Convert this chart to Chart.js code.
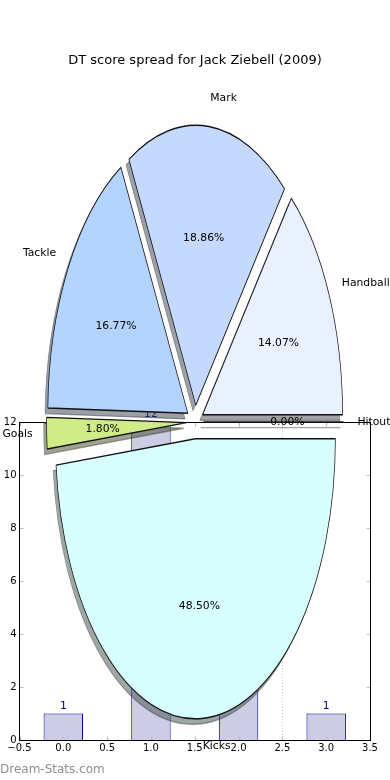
<!DOCTYPE html>
<html>
<head>
<meta charset="utf-8">
<script src="https://cdn.jsdelivr.net/npm/chart.js@4.4.0/dist/chart.umd.min.js"></script>
<style>
html,body{margin:0;padding:0;background:#fff;}
#wrap{position:relative;width:390px;height:780px;overflow:hidden;background:#fff;}
#wrap canvas{position:absolute;left:0;top:0;}
#wm{position:absolute;left:0;top:762px;font:12px "DejaVu Sans",sans-serif;color:#8e8e8e;white-space:nowrap;}
</style>
</head>
<body>
<div id="wrap">
<canvas id="bars" width="390" height="780"></canvas>
<canvas id="pie" width="390" height="780"></canvas>
<div id="wm">Dream-Stats.com</div>
</div>
<script>
// ---- data ----
const TITLE = 'DT score spread for Jack Ziebell (2009)';
const pieLabels = ['Handball', 'Mark', 'Tackle', 'Goals', 'Kicks', 'Hitout'];
const pieShares = [14.07, 18.86, 16.77, 1.80, 48.50, 0.00];
const pieColors = ['#e9f1ff', '#c5d9ff', '#b3d4ff', '#cfec89', '#d8ffff', '#ffe4c4'];
const barPositions = [0, 1, 2, 3];
const barValues = [1, 12, 6, 1];

// ---- style constants ----
const FONT = "'DejaVu Sans', sans-serif";
const EXPLODE = 0.06;     // fraction of radius
const STRETCH = 2;        // vertical stretch of the pie (ellipse)
const SHADOW_DX = -2.8, SHADOW_DY = 5.6;
const OFF = 2000;

Chart.defaults.font.family = FONT;
Chart.defaults.color = '#000';

function fmtTick(v) {
  return Number(v).toFixed(1).replace('-', '\u2212');
}
function hexToRgb(h) {
  const n = parseInt(h.slice(1), 16);
  return [(n >> 16) & 255, (n >> 8) & 255, n & 255];
}
function shadowOf(h) {
  const [r, g, b] = hexToRgb(h);
  return `rgba(${Math.round(r * 0.3)},${Math.round(g * 0.3)},${Math.round(b * 0.3)},0.5)`;
}

// ---- bar chart (underneath) ----
const framePlugin = {
  id: 'frame',
  afterDatasetsDraw(chart) {
    const {ctx, chartArea: a, scales: {x, y}} = chart;
    const L = Math.floor(a.left) + 0.5, R = Math.floor(a.right) + 0.5;
    const T = Math.floor(a.top) + 0.5, B = Math.floor(a.bottom) + 0.5;
    ctx.save();
    ctx.strokeStyle = '#bdbdbd';
    ctx.lineWidth = 1.2;
    const TL = 4;
    x.ticks.forEach(t => {
      const px = Math.round(x.getPixelForValue(t.value)) + 0.5;
      ctx.beginPath();
      ctx.moveTo(px, B); ctx.lineTo(px, B - TL);
      ctx.moveTo(px, T); ctx.lineTo(px, T + TL);
      ctx.stroke();
    });
    y.ticks.forEach(t => {
      const py = Math.round(y.getPixelForValue(t.value)) + 0.5;
      ctx.beginPath();
      ctx.moveTo(L, py); ctx.lineTo(L + TL, py);
      ctx.moveTo(R, py); ctx.lineTo(R - TL, py);
      ctx.stroke();
    });
    ctx.strokeStyle = '#000';
    ctx.lineWidth = 1;
    ctx.strokeRect(L, T, R - L, B - T);
    ctx.restore();
  }
};
const barLabelPlugin = {
  id: 'barLabels',
  afterDatasetsDraw(chart) {
    const ctx = chart.ctx;
    const meta = chart.getDatasetMeta(0);
    ctx.save();
    ctx.fillStyle = '#00008b';
    ctx.font = `10.8px ${FONT}`;
    ctx.textAlign = 'center';
    ctx.textBaseline = 'alphabetic';
    meta.data.forEach((el, i) => {
      ctx.fillText(String(barValues[i]), el.x, el.y - 5);
    });
    ctx.restore();
  }
};

new Chart(document.getElementById('bars'), {
  type: 'bar',
  data: {
    datasets: [{
      data: barPositions.map((p, i) => ({x: p, y: barValues[i]})),
      backgroundColor: '#ccccE4',
      borderColor: '#00008b',
      borderWidth: 1,
      categoryPercentage: 1,
      barPercentage: 0.9
    }]
  },
  options: {
    responsive: false,
    animation: false,
    events: [],
    layout: {padding: {left: 0, right: 0, top: 0, bottom: 15}},
    plugins: {
      legend: {display: false},
      tooltip: {enabled: false},
      title: {
        display: true, text: TITLE, color: '#000',
        font: {size: 13, weight: 'normal', family: FONT},
        padding: {top: 53, bottom: 353.4}
      }
    },
    scales: {
      x: {
        type: 'linear', min: -0.5, max: 3.5, offset: false,
        ticks: {stepSize: 0.5, padding: 2, maxRotation: 0, autoSkip: false,
                font: {size: 10}, callback: v => fmtTick(v)},
        grid: {offset: false, drawTicks: false, lineWidth: 1,
               color: c => (c.tick && Math.abs(c.tick.value - 2.5) < 1e-9) ? '#c4c4c4' : 'rgba(0,0,0,0)'},
        border: {display: false, dash: [1, 2]},
        afterFit: s => { s.height = 25; }
      },
      y: {
        min: 0, max: 12,
        ticks: {stepSize: 2, padding: 3, font: {size: 10}},
        grid: {display: false, drawTicks: false},
        border: {display: false},
        afterFit: s => { s.width = 19.5; }
      },
      yRight: {
        position: 'right', min: 0, max: 1,
        ticks: {display: false},
        grid: {display: false, drawTicks: false},
        border: {display: false},
        afterFit: s => { s.width = 20; }
      }
    }
  },
  plugins: [framePlugin, barLabelPlugin]
});

// ---- pie chart (on top, stretched to an ellipse, exploded with shadows) ----
const order = pieLabels.map((_, i) => pieLabels.length - 1 - i); // clockwise from east = reversed ccw order
const pieTotal = pieShares.reduce((s, v) => s + v, 0);

function applyArcTransform(ctx, arc) {
  const cx = arc.x, cy = arc.y;
  ctx.translate(cx, cy); ctx.scale(1, STRETCH); ctx.translate(-cx, -cy);
  const mid = (arc.startAngle + arc.endAngle) / 2;
  ctx.translate(Math.cos(mid) * EXPLODE * arc.outerRadius, Math.sin(mid) * EXPLODE * arc.outerRadius);
}
function drawArcEl(ctx, arc) {
  if (arc.circumference > 0) {
    arc.draw(ctx);
  } else {
    ctx.beginPath();
    ctx.moveTo(arc.x, arc.y);
    ctx.lineTo(arc.x + arc.outerRadius * Math.cos(arc.startAngle),
               arc.y + arc.outerRadius * Math.sin(arc.startAngle));
    ctx.lineWidth = arc.options.borderWidth;
    ctx.strokeStyle = arc.options.borderColor;
    ctx.stroke();
  }
}

const ellipsePlugin = {
  id: 'ellipse',
  beforeDatasetDraw(chart, args) {
    const ctx = chart.ctx;
    const arcs = args.meta.data;
    // shadows first
    arcs.forEach((arc, k) => {
      ctx.save();
      ctx.translate(-OFF, 0);
      ctx.shadowColor = shadowOf(pieColors[order[k]]);
      ctx.shadowBlur = 0;
      ctx.shadowOffsetX = OFF + SHADOW_DX;
      ctx.shadowOffsetY = SHADOW_DY;
      applyArcTransform(ctx, arc);
      drawArcEl(ctx, arc);
      ctx.restore();
    });
    // wedges
    arcs.forEach(arc => {
      ctx.save();
      applyArcTransform(ctx, arc);
      drawArcEl(ctx, arc);
      ctx.restore();
    });
    return false;
  },
  afterDatasetsDraw(chart) {
    const ctx = chart.ctx;
    const arcs = chart.getDatasetMeta(0).data;
    ctx.save();
    ctx.fillStyle = '#000';
    ctx.font = `10.8px ${FONT}`;
    ctx.textBaseline = 'middle';
    arcs.forEach((arc, k) => {
      const idx = order[k];
      const cy = arc.y, R = arc.outerRadius;
      const mid = (arc.startAngle + arc.endAngle) / 2;
      const c = Math.cos(mid), s = Math.sin(mid);
      const ex = arc.x + c * EXPLODE * R, ey = arc.y + s * EXPLODE * R;
      const toY = yy => cy + (yy - cy) * STRETCH;
      // outer label
      ctx.textAlign = c > 0 ? 'left' : 'right';
      ctx.fillText(pieLabels[idx], ex + 1.1 * R * c, toY(ey + 1.1 * R * s));
      // percentage
      ctx.textAlign = 'center';
      const pct = (pieShares[idx] / pieTotal * 100).toFixed(2) + '%';
      ctx.fillText(pct, ex + 0.6 * R * c, toY(ey + 0.6 * R * s));
    });
    ctx.restore();
  }
};

new Chart(document.getElementById('pie'), {
  type: 'pie',
  data: {
    labels: order.map(i => pieLabels[i]),
    datasets: [{
      data: order.map(i => pieShares[i]),
      backgroundColor: order.map(i => pieColors[i]),
      borderColor: '#111',
      borderWidth: 0.7
    }]
  },
  options: {
    responsive: false,
    animation: false,
    events: [],
    radius: 140,
    rotation: 90,
    layout: {padding: {top: 64, left: 0, right: 0, bottom: 0}},
    plugins: {legend: {display: false}, tooltip: {enabled: false}, title: {display: false}}
  },
  plugins: [ellipsePlugin]
});
</script>
</body>
</html>
